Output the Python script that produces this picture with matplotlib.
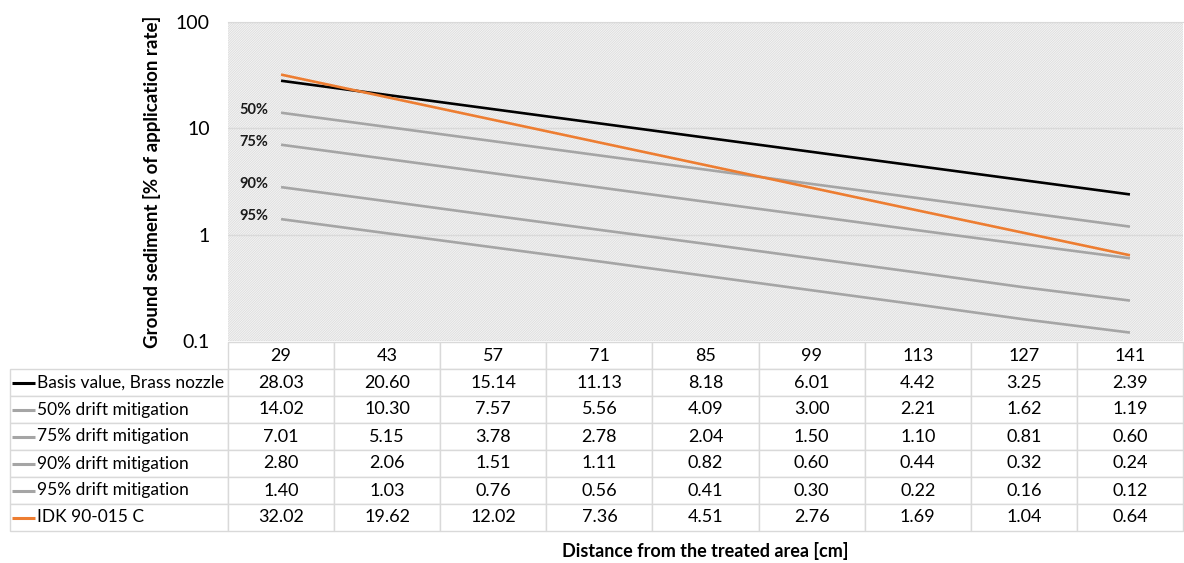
import matplotlib.pyplot as plt
from matplotlib.patches import Rectangle

plt.rcParams['font.family'] = ['Lato', 'DejaVu Sans']
plt.rcParams['hatch.linewidth'] = 0.6

# distances [cm]
distancias = [29, 43, 57, 71, 85, 99, 113, 127, 141]

basis = [28.03, 20.60, 15.14, 11.13, 8.18, 6.01, 4.42, 3.25, 2.39]
mit50 = [14.02, 10.30, 7.57, 5.56, 4.09, 3.00, 2.21, 1.62, 1.19]
mit75 = [7.01, 5.15, 3.78, 2.78, 2.04, 1.50, 1.10, 0.81, 0.60]
mit90 = [2.80, 2.06, 1.51, 1.11, 0.82, 0.60, 0.44, 0.32, 0.24]
mit95 = [1.40, 1.03, 0.76, 0.56, 0.41, 0.30, 0.22, 0.16, 0.12]
idk = [32.02, 19.62, 12.02, 7.36, 4.51, 2.76, 1.69, 1.04, 0.64]

series = [
    ('Basis value, Brass nozzle', basis, '#000000'),
    ('50% drift mitigation', mit50, '#a5a5a5'),
    ('75% drift mitigation', mit75, '#a5a5a5'),
    ('90% drift mitigation', mit90, '#a5a5a5'),
    ('95% drift mitigation', mit95, '#a5a5a5'),
    ('IDK 90-015 C', idk, '#ed7d31'),
]
etiquetas_pct = [('50%', mit50), ('75%', mit75), ('90%', mit90), ('95%', mit95)]

W, H = 1184, 563
fig = plt.figure(figsize=(W / 100, H / 100), dpi=100)

# --- grafico principal ---
ax = fig.add_axes([228 / W, 1 - 341 / H, (1183 - 228) / W, (341 - 22) / H])
ax.set_yscale('log')
ax.set_ylim(0.1, 100)
ax.set_xlim(-0.5, len(distancias) - 0.5)
ax.set_facecolor('#f6f6f6')
ax.add_patch(Rectangle((0, 0), 1, 1, transform=ax.transAxes, facecolor='none',
                       edgecolor='#dcdcdc', linewidth=0, hatch='/' * 14, zorder=0))

x = list(range(len(distancias)))
for nombre, valores, color in series:
    ax.plot(x, valores, color=color, linewidth=1.9, solid_capstyle='butt', zorder=3)
# naranja encima
ax.lines[-1].set_zorder(4)

for txt, valores in etiquetas_pct:
    ax.annotate(txt, (0, valores[0]), xytext=(-9, 2), textcoords='offset points',
                ha='right', va='center', fontsize=10.5, fontweight='bold', color='#1a1a1a')

ax.set_yticks([0.1, 1, 10, 100])
ax.set_yticklabels(['0.1', '1', '10', '100'])
ax.minorticks_off()
ax.tick_params(axis='y', length=0, pad=13, labelsize=14)
ax.set_xticks([])
ax.grid(True, axis='y', color='#d9d9d9', linewidth=1)
ax.set_axisbelow(True)
for s in ['left', 'right', 'bottom']:
    ax.spines[s].set_visible(False)
ax.spines['top'].set_color('#d9d9d9')
ax.set_ylabel('Ground sediment [% of application rate]', fontsize=13.5, fontweight='bold',
              labelpad=11)

# --- tabla de datos ---
ax_t = fig.add_axes([10 / W, 1 - 531 / H, (1183 - 10) / W, (531 - 342) / H])
ax_t.axis('off')
ax_t.set_xlim(0, 1)
ax_t.set_ylim(0, 1)

filas = [[''] + [str(d) for d in distancias]]
for nombre, valores, color in series:
    filas.append([nombre] + [f'{v:.2f}' for v in valores])

ancho_total = 1183 - 10
col_w = [218 / ancho_total] + [(1183 - 228) / 9 / ancho_total] * 9
tabla = ax_t.table(cellText=filas, colWidths=col_w, cellLoc='center', bbox=[0, 0, 1, 1])
tabla.auto_set_font_size(False)
tabla.set_fontsize(13)
for (r, c), cell in tabla.get_celld().items():
    cell.set_edgecolor('#d9d9d9')
    cell.set_linewidth(1)
    cell.set_facecolor('white')
    if c == 0:
        cell._loc = 'left'
        cell.PAD = 27 / 218
        cell.get_text().set_ha('left')
        cell.get_text().set_fontsize(12.5)
    if r == 0 and c == 0:
        cell.visible_edges = ''

nfilas = len(filas)
for i, (nombre, valores, color) in enumerate(series, start=1):
    yc = 1 - (i + 0.5) / nfilas
    ax_t.plot([2 / ancho_total, 25 / ancho_total], [yc, yc], color=color, linewidth=2.2,
              solid_capstyle='butt', zorder=5)

fig.text((228 + 1183) / 2 / W, 1 - 551 / H, 'Distance from the treated area [cm]',
         ha='center', va='center', fontsize=13, fontweight='bold')

fig.savefig('out.png', dpi=100)
